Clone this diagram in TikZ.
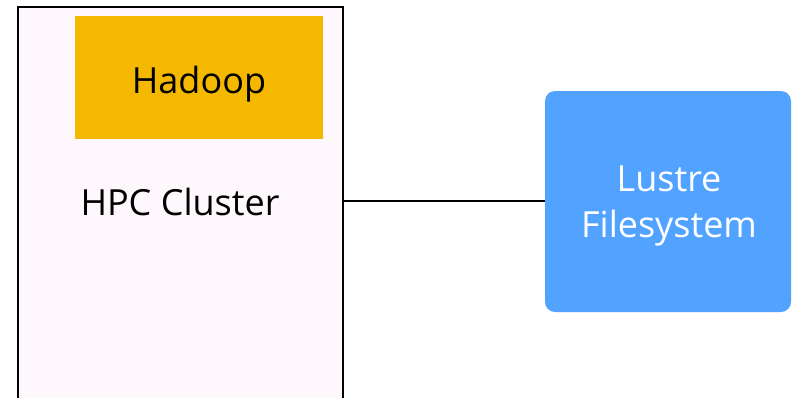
\documentclass[tikz,border=0pt]{standalone}
\usepackage{fontspec}
\setmainfont{Open Sans}
\definecolor{clusterfill}{HTML}{FEF8FC}
\definecolor{hadoopfill}{HTML}{F5B800}
\definecolor{lustrefill}{HTML}{52A3FF}
\tikzset{
  lbl/.style={font=\fontsize{36}{46}\selectfont, inner sep=0pt, anchor=base},
}
\begin{document}
\begin{tikzpicture}[x=1pt,y=-1pt]
\useasboundingbox (0,0) rectangle (792,397);
\begin{scope}
\clip (0,0) rectangle (792,397);
\draw[line width=2.2pt, fill=clusterfill] (18,7) rectangle (343,420);
\fill[hadoopfill] (75,16) rectangle (323,139);
\fill[lustrefill, rounded corners=10pt] (545,91) rectangle (791,312);
\coordinate (clr) at (343,201);
\coordinate (lul) at (545,201);
\draw[line width=2.2pt] (clr) -- (lul);
\node[lbl] (hadoop) at (199,93) {Hadoop};
\node[lbl] (hpc) at (180,215) {HPC Cluster};
\node[lbl, text=white] (lustre) at (669,191) {Lustre};
\node[lbl, text=white] (fs) at (669,237) {Filesystem};
\end{scope}
\end{tikzpicture}
\end{document}
